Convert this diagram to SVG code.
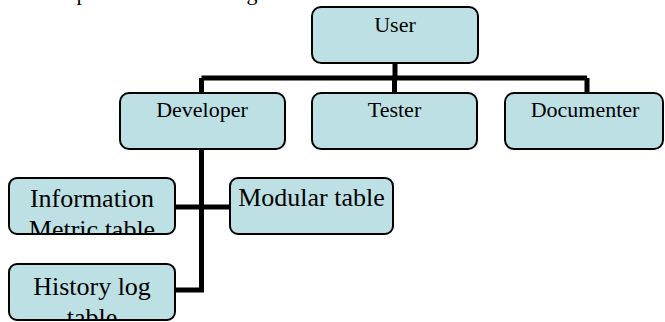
<svg xmlns="http://www.w3.org/2000/svg" width="665" height="322" viewBox="0 0 665 322">
<style>
.box{fill:#bce0e3;stroke:#000;stroke-width:2}
.t1{font-family:"Liberation Serif","Times New Roman",serif;font-size:22px;fill:#000;text-anchor:middle}
.t2{font-family:"Liberation Serif","Times New Roman",serif;font-size:26px;fill:#000;text-anchor:middle}
.con{stroke:#000;stroke-width:5;fill:none;stroke-linecap:butt}
</style>
<defs>
<clipPath id="cInfo"><rect x="9" y="178" width="166" height="56" rx="8"/></clipPath>
<clipPath id="cHist"><rect x="9" y="264" width="166" height="56" rx="8"/></clipPath>
</defs>
<rect width="665" height="322" fill="#fff"/>
<g id="caption">
<text class="t1" x="82" y="0">p</text>
<text class="t1" x="252" y="0">g</text>
</g>
<g id="connectors">
<path class="con" d="M395 63V78M201.5 78H587M201.5 78V93M394.5 78V93M587 78V93"/>
<path class="con" d="M201.5 149V292.5M175 207H230M175 290H204"/>
</g>
<g id="user"><rect class="box" x="312" y="7" width="166" height="56" rx="9"/><text class="t1" x="395" y="32">User</text></g>
<g id="developer"><rect class="box" x="120" y="93" width="165" height="56" rx="9"/><text class="t1" x="202" y="117">Developer</text></g>
<g id="tester"><rect class="box" x="312" y="93" width="165" height="56" rx="9"/><text class="t1" x="394.5" y="117">Tester</text></g>
<g id="documenter"><rect class="box" x="505" y="93" width="158" height="56" rx="9"/><text class="t1" x="585" y="117">Documenter</text></g>
<g id="information"><rect class="box" x="9" y="178" width="166" height="56" rx="8"/><g clip-path="url(#cInfo)"><text class="t2" x="92" y="207">Information</text><text class="t2" x="92" y="238">Metric table</text></g></g>
<g id="modular"><rect class="box" x="230" y="178" width="163" height="56" rx="8"/><text class="t2" x="311.5" y="206">Modular table</text></g>
<g id="history"><rect class="box" x="9" y="264" width="166" height="56" rx="8"/><g clip-path="url(#cHist)"><text class="t2" x="92" y="295">History log</text><text class="t2" x="92" y="326">table</text></g></g>
</svg>
